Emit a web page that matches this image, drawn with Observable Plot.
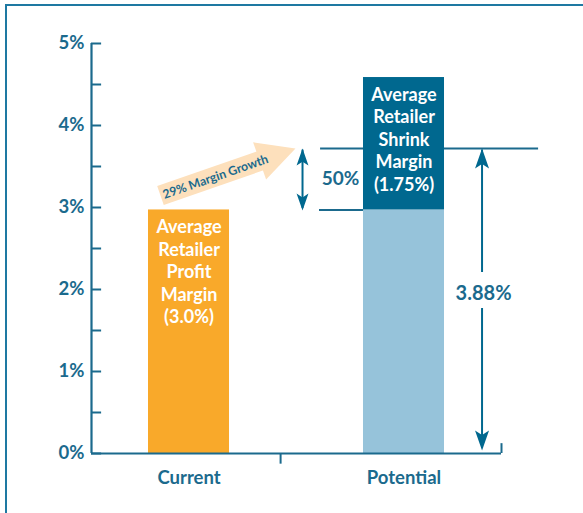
<!DOCTYPE html>
<html>
<head>
<meta charset="utf-8">
<script src="https://cdn.jsdelivr.net/npm/d3@7"></script>
<script src="https://cdn.jsdelivr.net/npm/@observablehq/plot@0.6"></script>
<style>
  html, body { margin: 0; padding: 0; background: #fff; overflow: hidden; }
  #wrap { position: relative; width: 583px; height: 513px; }
  #frame { position: absolute; left: 5px; top: 4px; width: 1000px; height: 1000px;
           border-left: 2px solid #1e79a2; border-top: 2px solid #1e79a2; pointer-events: none; z-index: 2; }
</style>
</head>
<body>
<div id="wrap"><div id="frame"></div></div>
<script>
// ---- data ----
const categories = ["Current", "Potential"];
const baseMargin = [2.97, 2.97];      // profit margin (current) / base of potential
const shrinkMargin = [0, 1.615];       // shrink margin stacked on potential
const barLabels = [
  "Average\nRetailer\nProfit\nMargin\n(3.0%)",
  "Average\nRetailer\nShrink\nMargin\n(1.75%)"
];
const yTicks = [0, 1, 2, 3, 4, 5];
const yMinorTicks = [0.5, 1.5, 2.5, 3.5, 4.5];
const growthLabel = "29% Margin Growth";
const shrinkPctLabel = "50%";
const totalLabel = "3.88%";
const topLevel = 3.72;                 // level of upper reference line

// ---- styles ----
const blue = "#1b6a8d";
const orange = "#f9a92a";
const lightBlue = "#96c3da";
const darkBlue = "#00688f";
const peach = "#fde0bc";
const font = "Lato, 'Open Sans', sans-serif";

const xMin = -0.4535, xMax = 1.4535;
const hw = 0.1884;

// arrowhead symbols (tip at origin, pointing up)
const barb = { draw(ctx, size) { const s = Math.sqrt(size / Math.PI);
  ctx.moveTo(0, 0); ctx.lineTo(0.7 * s, 2 * s); ctx.lineTo(0, 1.55 * s); ctx.lineTo(-0.7 * s, 2 * s); ctx.closePath(); } };
const tri = { draw(ctx, size) { const s = Math.sqrt(size / Math.PI);
  ctx.moveTo(0, 0); ctx.lineTo(0.52 * s, s); ctx.lineTo(-0.52 * s, s); ctx.closePath(); } };

const growthShaft = [{x: -0.1326, y: 3.146}, {x: 0.3419, y: 3.579}];
const growthTip = [{x: 0.4953, y: topLevel}];
const growthText = [{x: 0.1233, y: 3.372}];
const pctArrowX = 0.528;
const totalArrowX = 1.363;

const chart = Plot.plot({
  width: 583, height: 513,
  marginLeft: 91, marginRight: 82, marginTop: 43, marginBottom: 60,
  x: {type: "linear", domain: [xMin, xMax], axis: null},
  y: {domain: [0, 5], axis: null},
  style: {fontFamily: font, background: "transparent"},
  marks: [
    // reference lines (behind bars)
    Plot.ruleY([topLevel], {x1: 0.612, x2: 1.626, stroke: blue, strokeWidth: 2}),
    Plot.ruleY([baseMargin[1]], {x1: 0.607, x2: 1 - hw, stroke: blue, strokeWidth: 2}),
    // bars
    Plot.rectY([0], {x1: i => i - hw, x2: i => i + hw, y1: 0, y2: i => baseMargin[i], fill: orange}),
    Plot.rectY([1], {x1: i => i - hw, x2: i => i + hw, y1: 0, y2: i => baseMargin[i], fill: lightBlue}),
    Plot.rectY([1], {x1: i => i - hw, x2: i => i + hw, y1: i => baseMargin[i], y2: i => baseMargin[i] + shrinkMargin[i], fill: darkBlue}),
    // bar labels
    Plot.text([0, 1], {x: i => i, y: i => baseMargin[i] + shrinkMargin[i], text: i => barLabels[i],
      lineAnchor: "top", dy: 7.5, lineHeight: 1.25, fill: "white", fontSize: 18, fontWeight: "bold"}),
    // y axis
    Plot.ruleX([xMin], {y1: 0, y2: 5, stroke: blue, strokeWidth: 2.2}),
    Plot.ruleY(yTicks.concat(yMinorTicks), {y: d => d, x1: xMin, x2: xMin + 0.047, stroke: blue, strokeWidth: 2}),
    Plot.text(yTicks, {x: xMin, y: d => d, text: d => d + "%", textAnchor: "end", dx: -7,
      fill: blue, fontSize: 18.5, fontWeight: "bold"}),
    // x axis
    Plot.ruleY([0], {x1: xMin, x2: xMax, stroke: blue, strokeWidth: 2.2}),
    Plot.ruleX([0.426], {y1: 0, y2: -0.13, stroke: blue, strokeWidth: 2}),
    Plot.ruleX([xMax], {y1: 0, y2: 0.12, stroke: blue, strokeWidth: 2}),
    Plot.text(categories, {x: (d, i) => i, y: 0, dy: 25, text: d => d, fill: blue, fontSize: 18.5, fontWeight: "bold"}),
    // 50% double arrow
    Plot.ruleX([pctArrowX], {y1: baseMargin[1] + 0.02, y2: topLevel - 0.02, stroke: darkBlue, strokeWidth: 2}),
    Plot.dot([{y: topLevel, r: 0}, {y: baseMargin[1] - 0.008, r: 180}], {x: pctArrowX, y: "y", rotate: "r",
      symbol: barb, r: 8.5, fill: darkBlue, stroke: "none"}),
    Plot.text([shrinkPctLabel], {x: 0.7047, y: 3.354, text: d => d, fill: blue, fontSize: 19, fontWeight: "bold"}),
    // 3.88% arrow
    Plot.ruleX([totalArrowX], {y1: 2.207, y2: topLevel - 0.02, stroke: darkBlue, strokeWidth: 2}),
    Plot.ruleX([totalArrowX], {y1: 0.06, y2: 1.768, stroke: darkBlue, strokeWidth: 2}),
    Plot.dot([{y: topLevel, r: 0}, {y: 0.037, r: 180}], {x: totalArrowX, y: "y", rotate: "r",
      symbol: barb, r: 10, fill: darkBlue, stroke: "none"}),
    Plot.text([totalLabel], {x: 1.370, y: 1.955, text: d => d, fill: blue, fontSize: 20, fontWeight: "bold"}),
    // growth arrow
    Plot.line(growthShaft, {x: "x", y: "y", stroke: peach, strokeWidth: 20, strokeLinecap: "butt"}),
    Plot.dot(growthTip, {x: "x", y: "y", symbol: tri, r: 38, rotate: 70.8, fill: peach, stroke: "none"}),
    Plot.text(growthText, {x: "x", y: "y", text: () => growthLabel, rotate: -19.2, fill: blue,
      fontSize: 12.3, fontWeight: "bold"})
  ]
});
document.getElementById("wrap").appendChild(chart);
</script>
</body>
</html>
